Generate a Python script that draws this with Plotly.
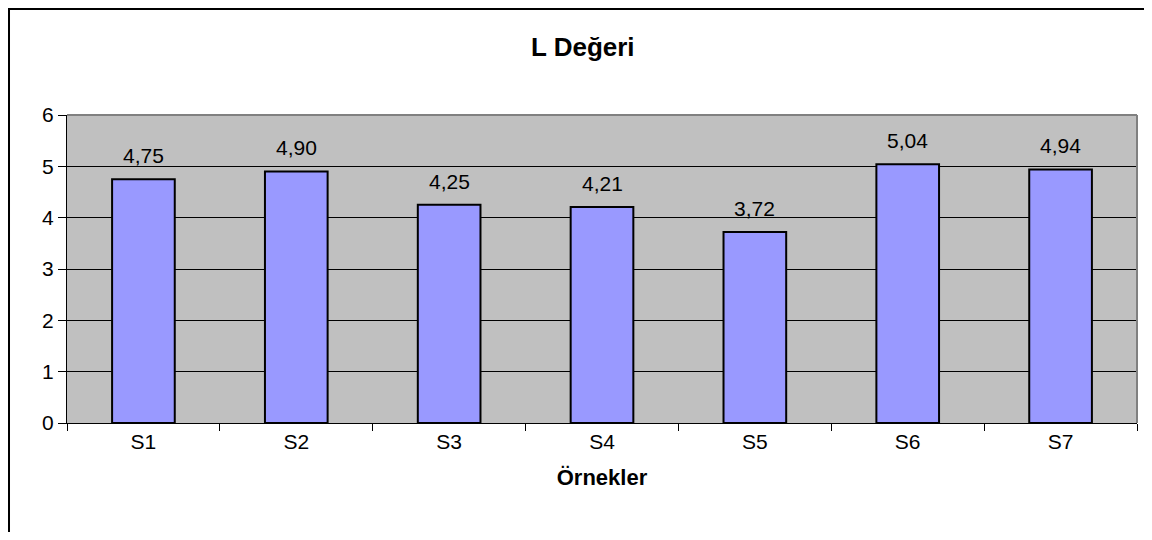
import plotly.graph_objects as go

samples = ['S1', 'S2', 'S3', 'S4', 'S5', 'S6', 'S7']
l_values = [4.75, 4.90, 4.25, 4.21, 3.72, 5.04, 4.94]
y_ticks = [0, 1, 2, 3, 4, 5, 6]

FONT = "Liberation Sans, Arial, sans-serif"

fig = go.Figure(go.Bar(
    x=samples, y=l_values,
    width=0.41,
    marker=dict(color='#9999FF', line=dict(color='black', width=2)),
    showlegend=False,
))

# value labels above the bars, comma decimals
for s, v in zip(samples, l_values):
    fig.add_annotation(x=s, y=v, text=f"{v:.2f}".replace('.', ','), showarrow=False,
                       yanchor='bottom', yshift=10, font=dict(size=21, color='black', family=FONT))

# the page body adds 8px around the figure, so the figure is shrunk to fit the window
fig.update_layout(
    width=1136, height=524,
    margin=dict(l=59, r=7, t=107, b=109),
    paper_bgcolor='white', plot_bgcolor='#C0C0C0',
    font=dict(family=FONT, size=21, color='black'),
    title=dict(text='<b>L Değeri</b>', x=0.506, xanchor='center', y=0.9256, yanchor='middle',
               font=dict(size=26, family=FONT)),
)

fig.update_xaxes(
    title=dict(text='<b>Örnekler</b>', font=dict(size=22), standoff=17),
    tickson='boundaries', ticks='outside', ticklen=7, tickcolor='black',
    showline=True, linecolor='black', linewidth=1,
    tickfont=dict(size=21),
)
fig.update_yaxes(
    range=[0, 6], tickvals=y_ticks, ticks='outside', ticklen=8, tickcolor='black',
    showline=True, linecolor='black', linewidth=1,
    showgrid=True, gridcolor='black', gridwidth=1, zeroline=False,
    tickfont=dict(size=21),
)

# gray frame on the top and right of the plot area
fig.add_shape(type='line', xref='paper', yref='paper', x0=0, x1=1, y0=1, y1=1,
              line=dict(color='#808080', width=2))
fig.add_shape(type='line', xref='paper', yref='paper', x0=1, x1=1, y0=0, y1=1,
              line=dict(color='#808080', width=2))
# outer chart border (runs off the right and bottom edges)
fig.add_shape(type='rect', xref='paper', yref='paper', x0=-0.0542, x1=1.2, y0=-0.6, y1=1.344,
              line=dict(color='black', width=2))

fig.write_html("out.html")
